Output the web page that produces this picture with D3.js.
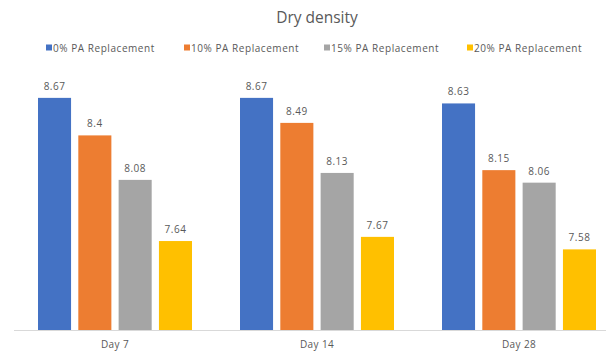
<!DOCTYPE html>
<html>
<head>
<meta charset="utf-8">
<script src="https://cdn.jsdelivr.net/npm/d3@7"></script>
<style>
  html, body { margin: 0; padding: 0; background: #fff; }
  svg { display: block; font-family: "Open Sans", "Noto Sans", sans-serif; }
</style>
</head>
<body>
<svg id="chart" width="606" height="356"></svg>
<script>
// Dry density by curing age for each PA replacement level
const days = ["Day 7", "Day 14", "Day 28"];
const series = ["0% PA Replacement", "10% PA Replacement", "15% PA Replacement", "20% PA Replacement"];
const pa0  = [8.67, 8.67, 8.63];
const pa10 = [8.40, 8.49, 8.15];
const pa15 = [8.08, 8.13, 8.06];
const pa20 = [7.64, 7.67, 7.58];
const colors = ["#4472C4", "#ED7D31", "#A5A5A5", "#FFC000"];

const values = [pa0, pa10, pa15, pa20];

const svg = d3.select("#chart");
const W = 606, H = 356;
const plot = { left: 14, right: 620, top: 52, bottom: 330 };
const textColor = "#595959";
const smallFont = "10px";

const x0 = d3.scaleBand().domain(days).range([plot.left, plot.right]).paddingInner(0).paddingOuter(0);
const groupW = 154;
const x1 = d3.scaleBand().domain(series).range([0, groupW]).paddingInner(0.18).paddingOuter(0);
const y = d3.scaleLinear().domain([7, 9]).range([plot.bottom, plot.top]);
const color = d3.scaleOrdinal().domain(series).range(colors);

// Title
svg.append("text")
  .attr("x", 317).attr("y", 23)
  .attr("text-anchor", "middle")
  .attr("fill", textColor)
  .style("font-size", "15.5px")
  .text("Dry density");

// Legend
const legendX = [46, 184, 324, 467];
const legend = svg.append("g");
series.forEach((s, i) => {
  const g = legend.append("g").attr("transform", `translate(${legendX[i]},48)`);
  g.append("rect").attr("x", 0).attr("y", -3.5).attr("width", 6).attr("height", 6).attr("fill", colors[i]);
  g.append("text").attr("x", 7).attr("y", 0).attr("dy", "0.35em")
    .attr("fill", textColor).style("font-size", smallFont)
    .style("letter-spacing", "0.55px").text(s);
});

// Bars
const fmt = v => d3.format(".2f")(v).replace(/0+$/, "").replace(/\.$/, "");
const groups = svg.append("g").selectAll("g")
  .data(days)
  .join("g")
  .attr("transform", d => `translate(${x0(d) + (x0.bandwidth() - groupW) / 2},0)`);

groups.selectAll("rect")
  .data((d, di) => series.map((s, si) => ({ s, v: values[si][di] })))
  .join("rect")
  .attr("x", d => x1(d.s))
  .attr("y", d => y(d.v))
  .attr("width", x1.bandwidth())
  .attr("height", d => plot.bottom - y(d.v))
  .attr("fill", d => color(d.s));

groups.selectAll("text.val")
  .data((d, di) => series.map((s, si) => ({ s, v: values[si][di] })))
  .join("text")
  .attr("class", "val")
  .attr("x", d => x1(d.s) + x1.bandwidth() / 2)
  .attr("y", d => y(d.v) - 8)
  .attr("text-anchor", "middle")
  .attr("fill", textColor)
  .style("font-size", smallFont)
  .style("letter-spacing", "0.5px")
  .text(d => fmt(d.v));

// Category axis
const xAxis = svg.append("g").attr("transform", `translate(0,${plot.bottom})`)
  .call(d3.axisBottom(x0).tickSize(0).tickPadding(11));
xAxis.select(".domain").attr("stroke", "#d9d9d9").attr("d", `M${plot.left},0.5H${W}`);
xAxis.selectAll("text").attr("fill", textColor).style("font-size", smallFont)
  .style("letter-spacing", "0.4px")
  .style("font-family", '"Open Sans", "Noto Sans", sans-serif');
</script>
</body>
</html>
